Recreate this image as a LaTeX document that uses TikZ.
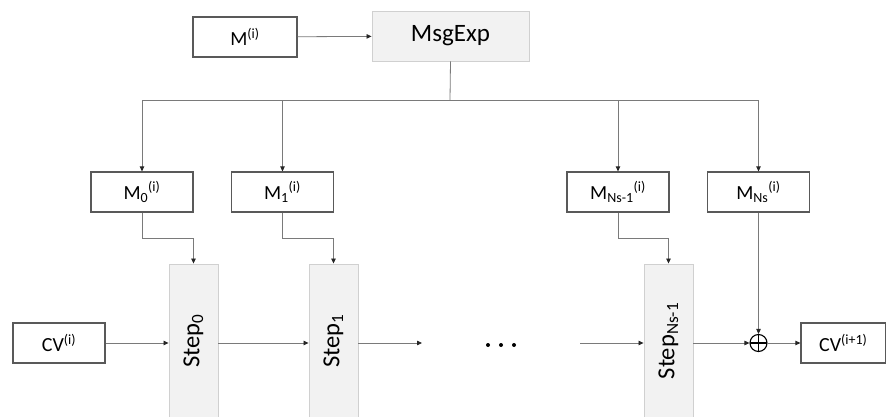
\documentclass[tikz,border=0pt]{standalone}
\usepackage{fontspec}
\setmainfont{Carlito}
\usepackage{graphicx}
\usetikzlibrary{arrows.meta}
\definecolor{boxline}{HTML}{595959}
\definecolor{procfill}{HTML}{F2F2F2}
\definecolor{procline}{HTML}{D0D0D0}
\definecolor{linkc}{HTML}{7A7A7A}
\begin{document}
\begin{tikzpicture}[x=1pt,y=-1pt,
  box/.style={draw=boxline, line width=1.2pt, fill=white, inner sep=0pt,
    minimum width=102pt, minimum height=40pt, font=\fontsize{20}{24}\selectfont},
  proc/.style={draw=procline, fill=procfill, line width=0.9pt, inner sep=0pt},
  stepbox/.style={proc, minimum width=49pt, minimum height=154pt,
    font=\fontsize{24.5}{28}\selectfont},
  link/.style={draw=linkc, line width=0.8pt,
    -{Triangle[length=5pt,width=4.5pt,color=black!85]}},
  plain/.style={draw=linkc, line width=0.8pt},
  xorop/.style={circle, draw=black, line width=1.1pt, minimum size=17pt, inner sep=0pt,
    path picture={\draw[line width=1.1pt]
      (path picture bounding box.north) -- (path picture bounding box.south)
      (path picture bounding box.west) -- (path picture bounding box.east);}}
]
\useasboundingbox (0,0) rectangle (887,417);

% message expansion
\node[box, minimum width=104pt] (mi) at (245,37) {M\textsuperscript{(i)}};
\node[proc, minimum width=157pt, minimum height=50pt,
      font=\fontsize{25}{30}\selectfont] (msg) at (450.5,36) {MsgExp};

% expanded message words
\node[box] (m0)  at (142,192)   {M\textsubscript{0}\textsuperscript{(i)}};
\node[box] (m1)  at (282.5,192) {M\textsubscript{1}\textsuperscript{(i)}};
\node[box] (mn1) at (618,192)   {M\textsubscript{Ns-1}\textsuperscript{(i)}};
\node[box] (mn)  at (758.5,192) {M\textsubscript{Ns}\textsuperscript{(i)}};

% step functions (running past the lower edge)
\node[stepbox] (s0)  at (193.5,341) {\rotatebox{90}{Step\textsubscript{0}}};
\node[stepbox] (s1)  at (333.5,341) {\rotatebox{90}{Step\textsubscript{1}}};
\node[stepbox] (sn1) at (668.5,341) {\rotatebox{90}{Step\textsubscript{Ns-1}}};

% chaining values
\node[box, minimum width=92pt] (cv) at (59,343) {CV\textsuperscript{(i)}};
\node[box, minimum width=84.5pt] (cvn) at (843.25,343) {CV\textsuperscript{(i+1)}};
\node[xorop] (xor) at (758.5,343) {};

% connectors
\draw[link] (mi) -- (msg);
\coordinate (bus) at (450,100);
\draw[plain] (msg.south) -- (bus);
\draw[link] (bus) -| (m0.north);
\draw[link] (bus) -| (m1.north);
\draw[link] (bus) -| (mn1.north);
\draw[link] (bus) -| (mn.north);

\draw[link] (m0.south) -- ++(0,26) -| (s0.north);
\draw[link] (m1.south) -- ++(0,26) -| (s1.north);
\draw[link] (mn1.south) -- ++(0,26) -| (sn1.north);
\draw[link] (mn.south) -- (xor.north);

\coordinate (gapL) at (422,343);
\coordinate (gapR) at (580,343);
\draw[link] (cv.east) -- (s0.west |- cv.east);
\draw[link] (s0.east |- cv.east) -- (s1.west |- cv.east);
\draw[link] (s1.east |- cv.east) -- (gapL);
\draw[link] (gapR) -- (sn1.west |- gapR);
\draw[link] (sn1.east |- gapR) -- (xor.west);
\draw[link] (xor.east) -- (cvn.west);

% ellipsis between the steps
\foreach \x in {488,501,514} \fill (\x,345) circle (2pt);
\end{tikzpicture}
\end{document}
